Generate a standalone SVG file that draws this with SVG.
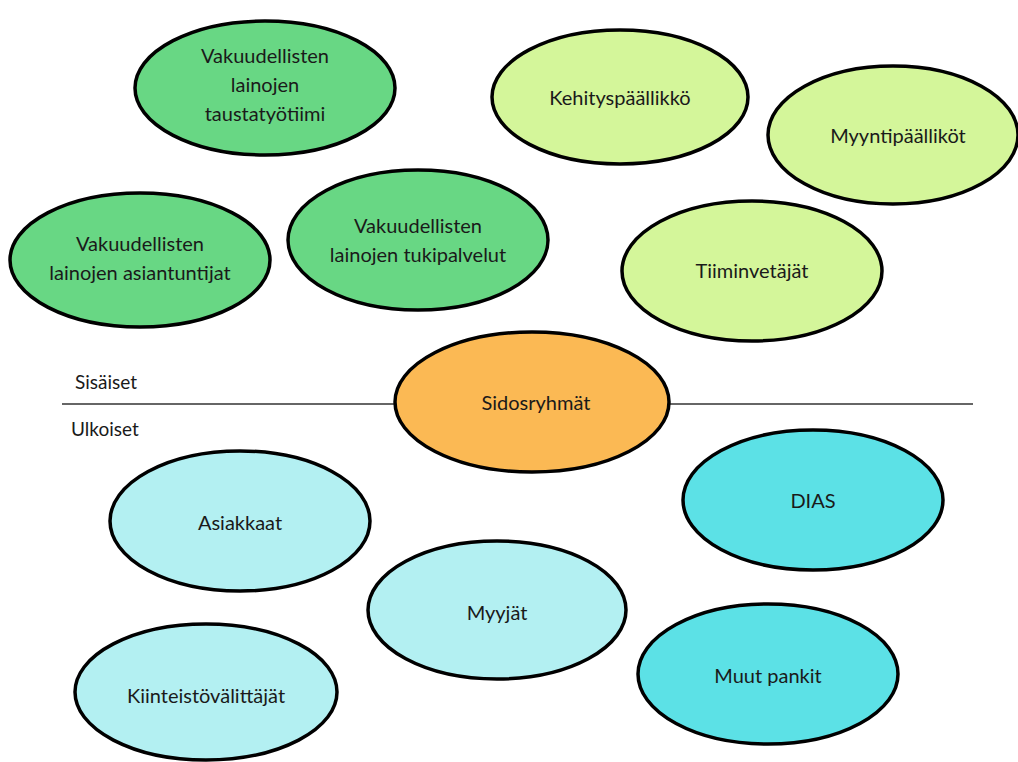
<svg xmlns="http://www.w3.org/2000/svg" width="1018" height="762" viewBox="0 0 1018 762">
<style>
  .n ellipse { stroke: #000; stroke-width: 3.5; }
  .g ellipse { fill: #68d784; }
  .lg ellipse { fill: #d4f69a; }
  .o ellipse { fill: #fbb954; }
  .lc ellipse { fill: #b3f0f2; }
  .c ellipse { fill: #5ce1e6; }
  text { font-family: Lato, "Open Sans", sans-serif; font-size: 20px; fill: #1a1a1a; text-anchor: middle; dominant-baseline: central; }
  .lbl { text-anchor: start; font-size: 19px; }
</style>
<rect width="1018" height="762" fill="#fff"/>
<g id="connectors">
  <line x1="62" y1="404" x2="973" y2="404" stroke="#666" stroke-width="2"/>
</g>
<text class="lbl" x="75" y="381">Sisäiset</text>
<text class="lbl" x="71" y="428">Ulkoiset</text>
<g id="n-taustatyotiimi" class="n g">
  <ellipse cx="265" cy="88" rx="130" ry="67"/>
  <text x="265" y="55">Vakuudellisten</text>
  <text x="265" y="84">lainojen</text>
  <text x="265" y="113">taustatyötiimi</text>
</g>
<g id="n-kehityspaallikko" class="n lg">
  <ellipse cx="620" cy="97" rx="128" ry="67"/>
  <text x="620" y="97">Kehityspäällikkö</text>
</g>
<g id="n-myyntipaallikot" class="n lg">
  <ellipse cx="893" cy="135" rx="125" ry="69"/>
  <text x="898" y="135">Myyntipäälliköt</text>
</g>
<g id="n-asiantuntijat" class="n g">
  <ellipse cx="140" cy="260" rx="130" ry="67"/>
  <text x="140" y="243">Vakuudellisten</text>
  <text x="140" y="272">lainojen asiantuntijat</text>
</g>
<g id="n-tukipalvelut" class="n g">
  <ellipse cx="418" cy="240" rx="130" ry="70"/>
  <text x="418" y="225">Vakuudellisten</text>
  <text x="418" y="254">lainojen tukipalvelut</text>
</g>
<g id="n-tiiminvetajat" class="n lg">
  <ellipse cx="752" cy="271" rx="130" ry="70"/>
  <text x="752" y="270">Tiiminvetäjät</text>
</g>
<g id="n-sidosryhmat" class="n o">
  <ellipse cx="532" cy="402" rx="137" ry="70"/>
  <text x="536" y="402">Sidosryhmät</text>
</g>
<g id="n-dias" class="n c">
  <ellipse cx="813" cy="500" rx="130" ry="70"/>
  <text x="813" y="500">DIAS</text>
</g>
<g id="n-asiakkaat" class="n lc">
  <ellipse cx="240" cy="521" rx="130" ry="70"/>
  <text x="240" y="522">Asiakkaat</text>
</g>
<g id="n-myyjat" class="n lc">
  <ellipse cx="497" cy="610" rx="129" ry="69"/>
  <text x="497" y="612">Myyjät</text>
</g>
<g id="n-muut-pankit" class="n c">
  <ellipse cx="768" cy="674" rx="130" ry="70"/>
  <text x="768" y="675">Muut pankit</text>
</g>
<g id="n-kiinteistovalittajat" class="n lc">
  <ellipse cx="206" cy="692" rx="131" ry="68"/>
  <text x="206" y="695">Kiinteistövälittäjät</text>
</g>
</svg>
